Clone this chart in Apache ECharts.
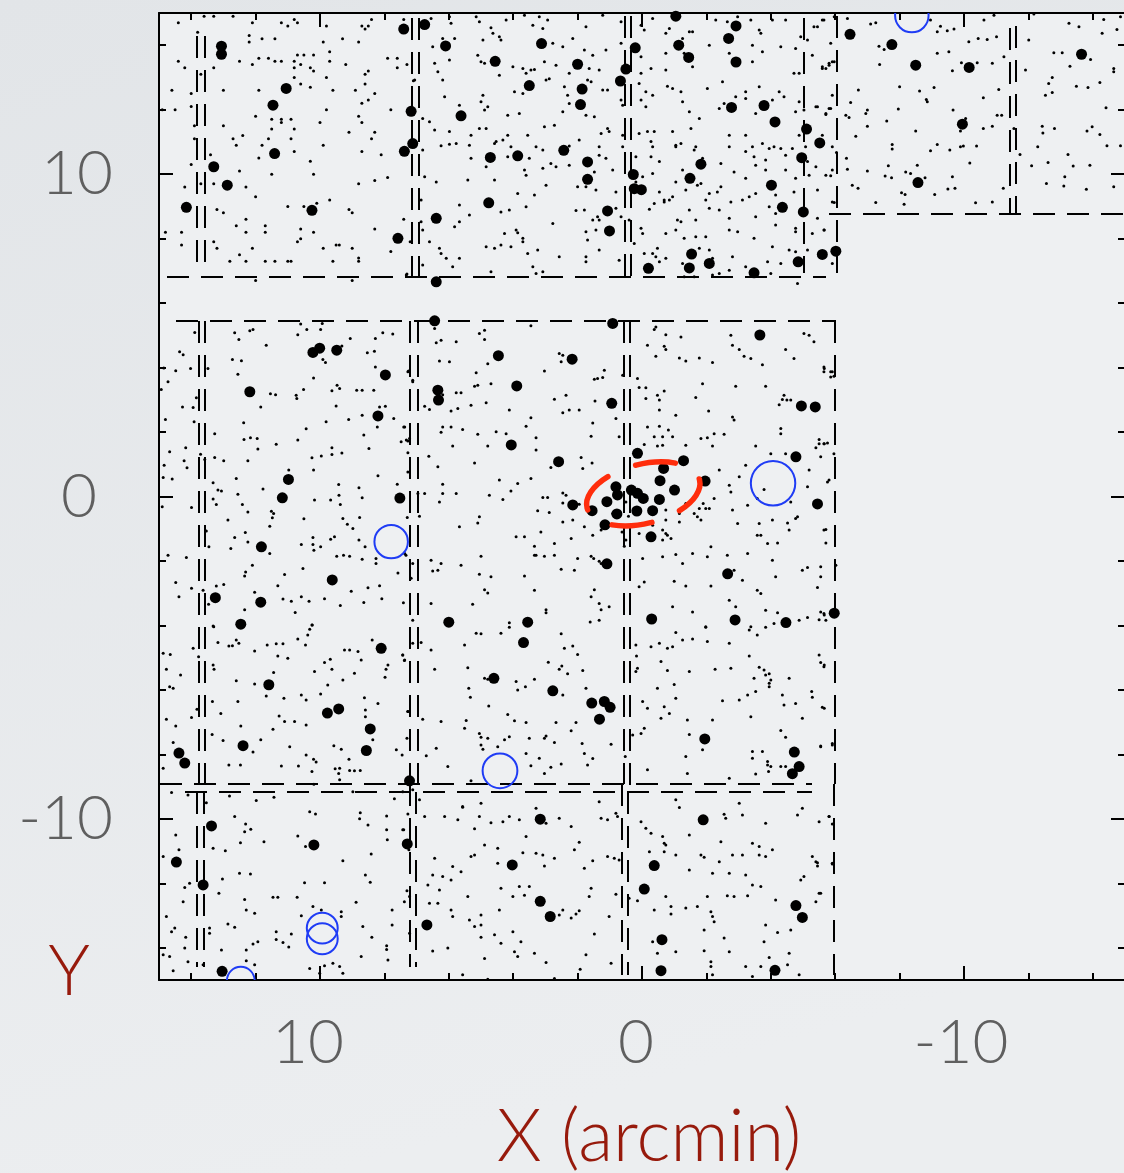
<!DOCTYPE html>
<html>
<head>
<meta charset="utf-8">
<title>X-ray source map</title>
<script src="https://cdn.jsdelivr.net/npm/echarts@6/dist/echarts.min.js"></script>
<style>
  html, body { margin: 0; padding: 0; overflow: hidden; }
  #chart { width: 1124px; height: 1173px; }
</style>
</head>
<body>
<div id="chart"></div>
<script>
// Offsets from the field centre, in arcmin. X grows to the east (left).

// Labelled axis ticks
const tickLabels = [-10, 0, 10];

// Bright detections (large dots)
const brightSources = [
  [7.40,14.50],[13.06,13.97],[13.06,13.72],[11.05,12.66],[11.46,12.14],[7.17,11.95],[7.12,10.95],[7.38,10.71],[11.41,10.64],[13.30,10.23],[12.88,9.66],[14.15,8.97],[10.25,8.88],[7.58,8.01],
  [6.75,14.64],[6.10,13.98],[3.12,14.05],[4.56,13.50],[2.00,13.41],[0.50,13.26],[0.67,12.89],[0.21,13.92],[-1.05,14.90],[-2.92,14.60],[-1.14,14.00],[-1.45,13.62],[-2.69,14.21],[-2.92,13.48],
  [3.50,12.75],[1.86,12.64],[1.91,12.16],[5.62,11.81],[-2.78,12.07],[-3.79,12.13],[-4.13,11.62],[-5.11,11.40],[-5.52,10.97],[-4.96,10.51],
  [4.71,10.52],[3.86,10.57],[2.43,10.74],[1.69,10.38],[1.69,9.84],[0.27,9.99],[0.24,9.55],[0.02,9.52],[-1.83,10.31],[-1.49,9.87],[-4.02,9.66],[-4.36,8.97],[-5.01,8.83],
  [4.76,9.11],[1.07,8.86],[1.01,8.24],[6.39,8.63],[-1.54,7.52],[-1.47,7.09],[-2.09,7.23],[-0.20,7.08],[-3.48,6.94],[-4.85,7.28],[-5.60,7.51],[-6.02,7.61],
  [6.39,6.66],[6.44,5.45],[0.91,5.37],
  [-6.46,14.34],[-7.76,14.02],[-8.50,13.38],[-10.16,13.31],[-13.65,13.72],[-9.95,11.55],[-8.57,9.74],
  [10.01,4.60],[10.22,4.47],[9.48,4.54],[7.97,3.77],[12.18,3.25],[8.20,2.50],[10.98,0.53],[11.17,-0.04],[7.52,-0.05],[11.82,-1.56],[9.62,-2.59],[13.25,-3.14],[11.84,-3.28],[12.46,-3.96],
  [-3.66,5.01],[4.46,4.37],[2.17,4.26],[3.89,3.43],[6.34,3.30],[6.32,2.99],[0.94,2.89],[-4.95,2.81],[-5.38,2.78],[4.06,1.60],[2.59,1.08],[0.14,1.34],[-1.29,1.11],[-4.78,1.23],[-1.96,0.48],
  [-0.67,0.87],[-0.56,0.49],[-1.01,0.20],[-0.54,-0.09],[0.14,0.10],[-0.04,-0.06],[0.33,0.20],[0.81,0.30],[0.76,0.05],[1.09,-0.16],[2.15,-0.26],[1.55,-0.44],[0.78,-0.54],[0.16,-0.45],[-0.33,-0.44],[1.15,-0.88],[-0.28,-1.25],
  [-5.45,-0.23],[1.09,-2.09],[-2.66,-2.40],[6.00,-3.90],[3.55,-3.90],[-0.30,-3.80],[-2.89,-3.83],[-4.47,-3.91],[-5.97,-3.62],
  [8.10,-4.71],[11.59,-5.84],[9.77,-6.72],[9.42,-6.59],[8.44,-7.21],[12.39,-7.73],[14.38,-7.96],[14.20,-8.27],[8.56,-7.88],[7.22,-8.82],[13.37,-10.22],[10.19,-10.81],[7.29,-10.78],[14.46,-11.34],[13.63,-12.05],[13.04,-14.73],
  [3.68,-4.53],[4.60,-5.64],[2.77,-6.03],[1.56,-6.41],[1.17,-6.36],[0.99,-6.54],[1.32,-6.91],[-1.95,-7.52],[-4.73,-7.93],[-4.88,-8.38],[-4.67,-8.60],[3.16,-10.01],[-1.90,-10.03],[4.03,-11.43],[-0.38,-11.45],[-0.07,-12.18],[3.16,-12.56],[2.85,-13.03],[-4.78,-12.69],[-4.98,-13.06],[6.68,-13.29],[-0.62,-13.75],[-0.59,-14.71],[-4.13,-14.70]
];

// Faint detections (small dots)
const faintNorth = [
  [14.4,14.7],[13.6,14.9],[13.3,14.9],[12.7,14.9],[12.1,14.7],[11.2,14.7],[10.8,14.8],[10.7,14.7],[11.0,14.6],[9.8,14.6],[8.7,14.6],[8.5,14.6],[8.6,14.5],[8.4,14.8],[7.4,14.8],[13.8,14.4],[12.2,14.3],[11.8,14.2],[11.4,14.2],[12.2,14.1],[12.5,13.5],[12.1,13.4],[11.9,13.6],[11.6,13.6],[11.4,13.5],[11.2,13.5],[10.8,13.5],[10.8,13.3],[10.6,13.4],[10.3,13.3],[10.2,13.2],[10.7,13.7],[10.5,13.7],[10.2,13.7],[9.7,13.8],[9.7,13.5],[9.2,13.4],[8.8,14.1],[9.3,14.2],[9.9,14.1],[14.4,13.5],[14.2,13.3],[13.3,13.3],[13.7,13.1],[8.5,13.2],[8.6,13.1],[7.9,13.6],[7.6,13.6],[7.6,13.3],[7.3,13.4],[7.1,12.9],[14.6,12.6],[14.0,12.5],[13.0,12.6],[11.9,12.6],[10.8,13.0],[10.6,12.8],[10.3,12.7],[9.8,13.0],[9.6,12.6],[8.9,12.6],[8.6,12.8],[8.3,12.5],[8.5,12.3],[8.7,12.2],[14.9,12.0],[14.5,12.0],[14.0,12.1],[9.8,12.0],[7.8,12.0],[13.9,11.5],[13.0,11.5],[12.0,11.8],[11.5,11.7],[11.2,11.7],[11.2,11.6],[10.9,11.7],[10.8,11.4],[10.9,11.1],[11.5,11.4],[11.6,11.1],[11.8,10.9],[12.7,11.1],[12.6,10.9],[12.4,11.2],[8.8,11.8],[8.7,11.6],[9.1,11.3],[8.3,11.3],[8.4,11.1],[10.0,11.6],[13.9,11.1],[9.9,10.9],[8.7,10.7],[8.1,10.6],[10.8,10.7],[14.0,10.3],[13.4,10.6],[12.5,10.1],[11.5,10.0],[11.9,10.5],[10.2,10.0],[10.3,10.4],[8.8,9.7],[8.3,9.8],[7.9,9.9],[14.2,9.6],[13.7,9.7],[13.3,9.7],[12.3,9.6],[12.0,9.3],[9.7,9.2],[10.1,9.1],[11.0,9.0],[10.5,9.0],[13.2,8.9],[13.0,8.8],[12.6,8.4],[12.3,8.6],[11.7,8.4],[11.7,8.2],[12.3,8.2],[10.6,8.3],[10.6,8.0],[10.7,7.9],[10.2,8.2],[9.9,7.7],[9.5,7.8],[9.4,7.8],[9.0,7.7],[9.1,8.9],[9.0,8.8],[8.3,8.3],[7.8,7.6],[7.4,8.6],[14.8,8.2],[14.3,8.2],[14.3,7.8],[13.3,7.9],[13.2,7.7],[12.8,7.3],[12.5,7.5],[12.3,7.3],[12.1,7.7],[11.7,7.3],[11.4,7.3],[11.0,7.3],[10.9,7.3],[9.6,7.3],[8.8,7.4],[8.8,7.3],[7.2,7.9],[7.3,6.9],[9.0,6.7],[12.0,6.7],
  [6.55,14.83],[5.98,14.88],[5.93,14.68],[5.15,14.88],[5.05,14.73],[4.69,14.54],[4.63,14.37],[4.22,14.78],[3.65,14.93],[3.39,14.62],[3.19,14.88],[3.08,14.52],[2.93,14.78],[1.74,14.57],[1.22,14.93],[0.65,14.73],[0.03,14.62],[-0.07,14.47],[-0.33,14.83],[-0.74,14.37],[-0.85,14.52],[-1.57,14.42],[-2.29,14.78],[-2.65,14.73],[-2.97,14.88],[-3.38,14.78],[-3.64,14.47],[-3.69,14.37],[-4.05,14.78],[-4.46,14.78],[-4.93,14.26],[-5.34,14.57],[-5.65,14.78],
  [6.50,13.95],[6.19,14.21],[5.82,14.21],[4.94,14.16],[4.43,14.26],[4.38,14.16],[2.77,14.06],[2.46,13.95],[2.15,14.21],[1.79,13.85],[1.53,13.69],[1.12,13.85],[0.65,14.06],[0.03,13.64],[-0.74,13.75],[-1.26,14.21],[-1.31,13.75],[-1.47,14.42],[-2.09,14.00],[-2.71,13.75],[-3.43,14.00],[-3.74,13.80],[-4.31,13.95],[-4.77,13.90],[-5.14,14.16],[-5.29,13.69],[-5.86,14.06],[-5.45,14.57],
  [5.98,13.54],[5.10,13.69],[5.00,13.49],[4.89,13.44],[4.43,13.07],[4.01,13.33],[3.70,13.28],[3.60,13.13],[3.45,13.23],[3.34,13.25],[3.03,13.49],[2.67,13.38],[2.26,13.13],[1.64,13.28],[1.33,13.23],[0.03,13.13],[-0.28,13.28],[-0.74,13.23],[-1.57,13.33],[-3.43,13.49],[-4.72,13.13],[-4.88,13.13],[-5.60,13.28],[-5.81,13.44],[-5.91,13.49],[6.44,13.44],[6.34,13.18],[7.06,12.92],[6.19,12.92],
  [6.13,12.40],[5.67,12.14],[4.94,12.45],[4.79,12.09],[3.96,12.56],[3.70,12.50],[2.98,12.92],[2.88,12.96],[2.41,12.71],[2.31,12.45],[1.69,12.92],[1.58,12.87],[1.22,12.61],[1.07,12.61],[0.71,12.97],[0.09,12.81],[-0.12,12.56],[-0.33,12.45],[-0.79,12.73],[-0.95,12.66],[-1.21,12.56],[-2.03,12.66],[-2.50,12.87],[-2.91,12.40],[-3.22,12.56],[-3.22,12.35],[-3.64,12.71],[-4.05,12.30],[-4.26,12.56],[-4.41,12.40],[-4.88,12.25],[-5.03,11.99],[-5.40,12.09],[-5.81,12.04],[-5.91,12.45],
  [6.81,11.73],[6.60,11.63],[5.00,12.25],[4.89,11.99],[4.17,11.83],[3.81,11.88],[2.46,11.94],[2.26,12.19],[1.74,11.83],[1.48,11.78],[0.65,12.30],[0.60,12.14],[0.03,12.30],[-0.12,12.09],[-1.26,12.25],[-1.47,11.94],[-1.78,11.73],[-2.40,12.04],[-2.55,12.19],[-3.53,11.88],[-3.79,12.09],[-4.77,11.94],[-5.45,12.09],[-5.71,11.88],
  [6.44,11.37],[5.98,11.32],[5.31,11.21],[5.05,11.42],[4.84,11.42],[4.53,11.01],[4.32,11.06],[4.17,11.21],[3.55,11.21],[3.03,11.47],[2.72,11.52],[1.95,11.06],[1.27,11.26],[1.07,11.42],[1.02,11.32],[0.60,11.21],[0.09,11.26],[-0.17,11.32],[-0.38,11.32],[-0.28,11.01],[-0.33,10.85],[-0.95,11.32],[-1.05,10.90],[-1.21,10.95],[-1.52,11.42],[-1.67,10.85],[-2.71,11.21],[-3.22,11.21],[-3.43,10.85],[-3.74,10.95],[-3.95,10.80],[-4.10,10.85],[-4.31,10.80],[-4.67,10.80],[-4.88,11.21],[-5.08,10.85],[-5.60,11.21],[-5.91,10.85],
  [6.81,10.75],[6.24,10.88],[5.98,10.93],[5.77,10.95],[5.36,10.90],[4.58,10.95],[4.07,10.85],[3.29,10.85],[3.08,10.75],[2.26,10.87],[1.33,10.85],[1.12,10.49],[0.60,10.85],[0.19,10.54],[-0.28,10.54],[-0.54,10.39],[-1.05,10.85],[-1.62,10.75],[-1.88,10.49],[-2.45,10.33],[-2.71,10.85],[-3.22,10.70],[-3.48,10.54],[-3.84,10.44],[-4.46,10.59],[-5.14,10.39],
  [5.31,10.49],[4.84,10.23],[4.17,10.54],[3.50,10.49],[3.65,10.13],[3.60,9.97],[3.08,10.18],[2.83,10.33],[2.26,10.28],[1.33,10.59],[1.48,10.07],[0.91,10.13],[-0.02,9.92],[-0.33,10.02],[-1.05,9.76],[-1.26,10.13],[-1.83,9.71],[-2.09,9.40],[-2.45,9.61],[-2.86,10.07],[-3.22,9.87],[-3.53,10.28],[-3.84,10.13],[-4.46,10.13],[-4.77,9.87],[-5.19,9.97],[-5.40,10.23],[-5.71,9.97],[-5.91,10.13],
  [6.75,9.92],[6.39,9.76],[5.41,9.82],[4.58,9.82],[2.98,9.66],[2.67,10.23],[2.00,9.61],[1.74,9.61],[1.43,9.51],[0.81,9.45],[0.19,9.76],[-0.54,9.45],[-0.69,9.20],[-0.95,9.30],[-1.36,9.51],[-1.72,9.66],[-1.98,9.20],[-2.34,9.45],[-3.33,9.30],[-3.53,9.40],[-4.15,9.35],[-4.72,9.45],[-5.45,9.51],
  [6.86,9.20],[5.67,9.04],[5.36,8.73],[4.38,8.83],[4.12,8.89],[3.86,9.40],[3.60,8.99],[3.34,9.35],[2.05,8.87],[1.79,8.89],[1.53,8.58],[1.38,8.68],[1.33,8.58],[0.81,8.94],[0.40,8.58],[0.03,8.32],[-0.23,8.91],[-0.38,9.09],[-0.69,9.14],[-0.85,9.20],[-1.10,8.58],[-1.21,8.52],[-1.47,8.89],[-1.67,8.58],[-2.09,8.94],[-2.40,8.89],[-2.71,8.63],[-2.76,9.14],[-3.12,9.20],[-3.53,8.68],[-3.95,8.99],[-4.15,8.78],[-4.77,8.32],[-5.45,8.63],[-5.65,8.27],[-5.91,9.14],
  [6.86,8.52],[6.81,8.27],[5.82,8.37],[5.67,8.52],[4.27,8.16],[3.91,8.27],[3.86,8.18],[3.70,8.01],[3.70,7.90],[2.77,8.47],[1.74,8.21],[1.69,7.96],[1.43,8.27],[0.65,8.68],[-0.02,8.16],[-0.74,8.16],[-1.05,8.27],[-1.31,8.01],[-1.67,8.06],[-1.98,8.06],[-2.71,8.27],[-2.97,8.21],[-3.48,8.01],[-4.15,8.42],[-4.77,8.21],[-5.29,8.16],
  [7.32,6.87],[6.81,7.18],[6.60,7.90],[6.29,7.70],[6.24,7.54],[6.08,7.39],[5.88,7.13],[5.67,7.39],[4.84,7.75],[4.58,7.70],[4.38,7.80],[4.07,7.75],[3.55,7.54],[3.24,7.65],[2.57,7.44],[1.74,7.44],[1.74,7.28],[1.33,7.65],[0.71,7.33],[0.24,7.85],[-0.07,7.54],[-0.33,7.54],[-0.48,7.70],[-0.43,7.44],[-0.54,7.28],[-0.74,7.39],[-1.26,7.23],[-1.78,7.70],[-2.09,7.65],[-2.19,7.39],[-2.40,6.92],[-2.71,7.02],[-2.81,7.44],[-3.22,7.13],[-3.90,7.28],[-4.05,7.75],[-4.31,7.23],[-4.57,7.65],[-4.77,7.59],[-5.14,7.65],[-4.83,6.61],[4.69,6.97],[3.39,7.13],[3.29,6.92],[3.08,6.97],[-1.31,6.82],[-1.62,6.82],[-2.19,6.87],[-4.00,6.92]
];

// Faint detections in the north-west chips
const faintNorthWest = [
  [-5.60,14.78],[-5.97,14.88],[-6.38,14.83],[-7.10,14.66],[-7.26,14.70],[-8.96,14.78],[-9.27,14.59],[-9.48,14.45],[-9.69,14.50],[-9.17,14.42],[-10.62,14.78],[-10.93,14.93],[-12.17,14.97],[-13.26,14.68],[-13.57,14.57],[-14.29,14.37],[-14.34,14.80],[-14.75,14.49],[-14.86,14.88],
  [-7.36,13.97],[-7.52,13.87],[-9.17,13.75],[-9.53,13.80],[-10.15,14.11],[-10.44,14.21],[-10.72,14.18],[-11.01,14.26],[-12.01,14.16],[-12.79,13.77],[-13.05,13.77],[-13.93,13.56],[-13.29,13.35],[-14.65,13.28],[-14.65,13.18],
  [-5.60,13.33],[-5.71,13.28],[-5.81,13.38],[-5.97,13.49],[-7.38,13.40],[-9.64,13.21],[-9.92,13.46],[-10.41,13.46],[-10.88,13.44],[-11.24,13.64],[-11.91,13.23],[-12.74,13.00],[-12.63,12.81],[-12.53,12.45],[-12.74,12.53],[-13.49,12.73],[-13.85,12.69],[-14.22,12.84],
  [-6.72,12.61],[-8.00,12.71],[-8.62,12.58],[-9.07,12.69],[-6.48,12.22],[-5.71,11.85],[-5.86,12.04],[-6.33,11.83],[-6.43,11.76],[-7.00,11.99],[-6.95,11.88],[-7.96,12.02],[-8.86,12.25],[-8.83,12.32],[-9.66,11.99],[-10.60,12.37],[-11.08,12.63],[-11.03,11.83],[-11.17,11.83],
  [-7.00,11.49],[-6.64,11.18],[-7.60,11.65],[-8.50,11.34],[-9.89,11.34],[-10.05,11.73],[-10.60,11.42],[-10.88,11.49],[-11.55,11.42],[-12.43,11.49],[-12.45,11.28],[-12.81,11.42],[-13.82,11.34],[-13.98,11.47],[-14.22,11.23],[-14.41,12.06],
  [-7.77,10.92],[-7.77,10.78],[-8.96,10.73],[-9.17,10.92],[-9.56,10.75],[-9.89,10.85],[-9.98,10.87],[-10.39,10.87],[-6.04,10.67],[-6.35,10.49],[-10.18,10.35],[-11.74,10.61],[-12.10,10.26],[-12.29,10.85],[-12.61,10.36],[-13.23,10.61],[-13.39,10.25],[-13.91,10.28],[-14.44,10.88],[-14.86,10.88],
  [-5.86,9.95],[-6.38,10.15],[-6.53,9.66],[-6.71,9.56],[-7.00,10.10],[-7.55,9.94],[-7.75,9.89],[-7.65,10.26],[-8.19,10.07],[-8.34,10.02],[-8.55,10.28],[-8.79,9.89],[-8.06,9.42],[-8.17,9.37],[-9.09,9.37],[-9.50,9.54],[-9.72,9.56],[-9.64,9.92],[-11.22,9.56],[-12.56,9.71],[-13.13,9.92],[-13.10,9.63],[-13.80,9.53],[-14.65,9.61],
  [-5.97,9.12],[-7.26,9.12],[-8.14,9.07],[-10.36,9.11],[-10.88,9.14],[-5.66,8.27],[-5.91,7.23]
];

// Faint detections in the central chips
const faintCentral = [
  [13.89,5.09],[12.65,5.08],[12.52,4.87],[12.18,5.14],[12.08,5.18],[10.69,5.02],[10.60,5.35],[10.41,5.18],[9.98,5.18],[9.93,5.37],[9.06,4.90],[8.28,4.90],[8.05,5.08],[7.74,5.04],
  [14.36,4.49],[14.25,4.40],[12.72,4.25],[12.44,4.21],[11.67,4.69],[9.91,4.25],[9.83,4.16],[9.32,4.67],[8.53,4.46],[8.31,4.51],[7.25,3.89],[7.12,3.61],
  [14.85,3.99],[14.72,3.56],[14.48,3.90],[14.02,3.97],[13.48,3.97],[12.55,3.79],[11.84,2.78],[11.54,3.19],[11.38,3.16],[10.74,3.14],[10.72,3.04],[10.51,3.32],[10.20,3.68],[9.63,3.28],[9.47,3.45],[9.39,3.35],[8.86,3.30],[8.69,3.30],[8.33,3.30],[8.28,4.02],[8.15,2.78],[7.97,2.80],[7.71,2.42],[7.40,2.16],[7.27,1.72],[7.48,1.70],
  [14.93,3.32],[14.80,2.39],[14.27,2.78],[13.94,2.76],[13.91,2.32],[13.84,3.06],[13.27,1.95],[12.37,2.29],[12.36,1.77],[12.16,1.82],[11.95,1.80],[11.93,1.47],[11.36,1.62],[10.69,1.75],[10.43,2.10],[9.81,2.32],[9.50,2.81],[9.11,2.39],[8.69,2.52],[8.64,1.91],[8.48,1.49],[8.22,2.16],
  [14.67,1.39],[14.84,0.97],[14.59,0.54],[14.87,0.59],[14.22,1.11],[14.17,1.51],[14.13,0.89],[13.71,1.31],[13.58,1.15],[13.27,1.21],[12.99,1.11],[12.24,1.11],[10.97,0.82],[10.25,1.20],[9.96,1.26],[9.63,1.51],[9.63,1.30],[9.32,1.35],[10.20,0.82],[8.20,0.64],[7.27,1.36],
  [13.32,0.43],[13.17,0.20],[13.06,0.17],[13.32,-0.08],[13.22,-0.25],[12.60,0.56],[12.55,0.07],[12.41,-0.25],[11.77,0.23],[12.24,-0.48],[11.51,-0.46],[11.44,-0.53],[11.48,-0.66],[11.56,-0.92],[10.50,-0.69],[10.17,-0.11],[9.67,-0.11],[9.41,0.04],[9.42,0.37],[9.37,-0.25],[8.79,0.27],[8.69,-0.04],[7.60,0.38],[7.29,-0.65],[9.29,-0.68],[9.15,-0.86],[8.98,-0.99],[8.77,-0.65],
  [14.90,-0.32],[13.99,-0.34],[13.53,-1.07],[13.45,-1.56],[12.86,-0.73],[12.77,-1.61],[12.65,-1.27],[12.32,-1.12],[12.24,-1.41],[11.56,-1.77],[10.58,-1.49],[10.22,-1.27],[10.22,-1.49],[10.19,-1.67],[9.98,-1.56],[9.67,-1.33],[9.55,-1.25],[9.48,-1.85],[9.27,-1.82],[9.08,-1.85],[8.79,-1.35],[8.60,-1.56],[8.69,-1.95],[8.26,-1.92],[8.26,-2.08],[7.33,-1.82],
  [14.72,-1.82],[14.15,-1.89],[14.48,-2.67],[14.38,-3.11],[13.99,-2.85],[13.63,-2.91],[13.46,-3.34],[13.22,-2.78],[12.99,-2.73],[12.34,-2.47],[12.31,-2.34],[12.10,-2.13],[12.03,-2.97],[12.34,-3.51],[11.10,-2.42],[11.31,-2.77],[11.15,-3.18],[10.89,-3.25],[10.58,-3.11],[10.53,-2.23],[10.34,-3.25],[9.86,-3.17],[9.37,-3.38],[9.03,-2.94],[8.64,-3.29],[8.51,-2.83],[8.15,-2.77],[8.08,-3.17],[7.58,-2.37],[7.41,-3.30],[7.17,-2.54],
  [13.30,-4.04],[10.77,-3.60],[10.32,-4.12],[10.25,-3.99],
  [6.44,5.21],[6.39,4.77],[6.24,4.85],[5.77,4.80],[5.05,5.06],[4.89,5.16],[4.89,4.87],[3.45,5.30],[2.57,4.44],[2.46,4.38],[2.51,4.18],[3.03,3.89],[1.48,3.64],[1.22,3.69],[1.17,3.92],[0.60,3.76],
  [-0.38,5.18],[-0.43,5.26],[-0.74,5.02],[-0.17,4.69],[-0.69,4.66],[-0.74,4.56],[-0.43,4.35],[-1.21,4.95],[-1.16,4.30],[-1.36,4.20],[-1.78,4.30],[-2.19,4.16],[-2.76,5.00],[-2.81,4.69],[-3.02,4.56],[-3.17,4.35],[-3.38,4.28],[-3.74,4.09],[-4.46,4.56],[-4.72,4.28],[-5.03,5.06],[-5.19,5.00],[-5.34,4.80],[-5.65,4.02],[-5.65,3.87],[-5.86,3.87],[-5.96,3.73],
  [7.27,3.87],[7.12,3.56],[6.29,4.20],[5.98,4.18],[5.15,3.84],[5.20,3.42],[5.10,3.45],[4.79,4.12],[4.69,3.50],[5.77,3.22],[5.62,3.22],[6.19,3.16],[6.75,2.80],[6.60,2.70],[5.93,2.65],[5.72,2.73],[5.31,2.83],[4.84,2.91],[4.12,2.68],[3.45,2.44],[2.72,3.02],[2.36,3.14],[2.26,2.68],[2.46,2.60],[1.95,2.68],[1.46,2.96],[1.38,3.66],[0.81,2.42],
  [0.14,3.66],[0.09,3.38],[-0.12,3.37],[-0.48,3.14],[-0.69,3.27],[-0.12,3.04],[-0.54,2.99],[-0.54,2.68],[-1.05,2.52],[-1.67,3.07],[-2.07,2.65],[-1.88,3.50],[-2.91,3.42],[-3.84,3.42],[-4.26,2.85],[-4.41,3.14],[-4.62,2.99],[-4.36,3.01],[-4.50,2.99],[-2.86,2.37],
  [7.37,2.16],[7.22,1.80],[7.32,1.75],[6.19,2.16],[5.93,2.16],[5.57,2.08],[6.24,1.99],[5.10,1.93],[4.53,2.01],[4.22,1.95],[3.60,2.18],[3.29,1.82],[3.29,1.44],[4.79,1.57],[5.88,1.57],[6.62,1.25],[6.34,0.92],[5.20,1.04],[1.89,1.21],[1.55,1.04],[2.83,0.90],[1.58,1.87],[1.84,0.87],[0.71,1.85],[1.53,2.28],
  [-0.17,2.16],[-0.54,2.18],[-0.82,2.06],[-0.07,1.61],[-0.38,1.85],[-0.64,1.85],[-0.64,1.59],[-0.48,1.57],[-0.95,1.85],[-1.36,1.59],[-1.83,1.80],[-2.03,1.82],[-2.24,1.95],[-2.55,1.93],[-2.81,2.47],[-2.19,1.57],[-3.53,1.57],[-4.31,2.11],[-4.31,1.95],[-5.50,1.77],[-5.65,1.64],[-5.76,1.66],[-5.40,1.51],[-4.46,1.33],[-4.00,1.33],[-5.19,0.82],[-5.55,1.23],[-5.96,1.33],
  [7.27,0.76],[6.96,0.09],[6.75,0.09],[6.19,0.38],[6.19,0.09],[6.29,-0.17],[5.77,0.09],[4.43,0.51],[3.86,0.40],[3.45,0.56],[4.74,0.04],[4.32,-0.09],[4.07,0.17],[3.08,-0.03],[2.93,-0.03],[2.46,0.11],[2.36,0.04],[2.46,-0.20],[2.88,-0.50],[1.95,-0.24],[3.24,-0.44],
  [-2.40,0.82],[-2.71,0.35],[-2.76,0.14],[-3.02,0.61],[-3.22,0.97],[-3.28,-0.27],[-3.58,-0.06],[-3.79,0.22],[-4.62,-0.17],[-4.77,-0.68],[-5.76,0.45],[-5.65,-1.04],[-5.14,0.30],[-2.97,-0.84],[-2.81,-0.42],[-2.24,-0.06],[-1.90,-0.22],[-1.98,-0.37],[-1.62,-0.53],[-1.78,-0.37],[-1.72,-0.63],[-1.83,-0.73],[-2.09,-0.37],[-1.36,-0.22],[-1.16,-0.53],[-0.74,-0.42],[-0.74,-0.73],[-0.64,-1.04],[-0.90,-1.30],[-0.74,-1.15],
  [6.91,-0.61],[5.67,-0.94],[5.10,-0.82],[5.05,-0.63],[3.91,-1.25],[3.65,-1.25],[3.34,-1.54],[3.29,-1.82],[3.14,-1.10],[2.72,-1.46],[2.20,-1.30],[1.79,-0.94],[1.53,-1.20],[1.27,-1.04],[2.46,-0.79],[2.15,-0.73],[0.91,-0.53],[0.50,-0.17],[0.42,-0.61],[0.50,-1.35],[0.55,-1.54],[0.62,-1.10],
  [0.09,-1.15],[-0.33,-0.89],[-0.64,-1.35],[-0.79,-1.20],[-1.16,-0.79],[-2.14,-1.56],[-3.58,-1.20],[-3.69,-1.20],[-3.90,-1.46],[-4.05,-0.73],[-4.52,-0.82],[-4.57,-1.04],[-4.83,-0.63],[-4.98,-2.29],[-3.64,-0.84],[-4.21,-1.44],
  [7.37,-1.77],[7.12,-2.08],[6.55,-1.98],[6.24,-2.08],[6.50,-2.31],[6.34,-2.29],[5.62,-2.13],[5.00,-1.85],[5.05,-2.41],[4.69,-2.49],[4.89,-2.89],[4.79,-2.99],[3.65,-2.47],[3.34,-1.82],[3.03,-1.85],[2.72,-1.82],[2.51,-2.26],[2.10,-2.29],[2.00,-1.92],[1.58,-1.85],[1.50,-1.92],[1.33,-2.01],[1.27,-2.08],[1.48,-2.89],[1.58,-3.11],[1.33,-3.32],[1.27,-3.51],[1.02,-3.42],[1.61,-3.89],[1.33,-3.84],[2.98,-3.51],[2.98,-3.61],[3.34,-2.91],[6.55,-3.32],[5.26,-3.34],[7.12,-3.84],[4.12,-3.92],
  [-0.02,-1.92],[-0.64,-1.87],[-1.05,-1.80],[-1.26,-2.08],[-1.57,-1.77],[-2.03,-1.87],[-2.65,-1.82],[-3.28,-1.77],[-4.05,-1.98],[-2.86,-2.29],[-3.12,-2.60],[-3.58,-2.91],[-3.69,-3.01],[-4.15,-2.49],[-5.14,-2.20],[-5.55,-2.18],[-6.02,-2.13],[-5.45,-2.82],[-0.07,-2.65],[-1.00,-2.63],[-1.36,-2.78],[-2.14,-2.78],[-2.71,-3.22],[-2.91,-3.42],[-3.84,-3.53],[-4.21,-3.61],[-5.14,-3.75],[-5.50,-3.82],[-5.65,-3.63],[0.09,-2.80],[-0.95,-3.42],[-1.57,-3.58],[-1.98,-4.04],[-4.88,-3.84],[-5.71,-3.84],[-3.38,-4.04],[-4.10,-3.94],
  [-5.66,3.97],[-5.91,3.87],[-5.86,3.71],[-5.50,1.64],[-5.66,1.64],[-5.81,0.51],[-5.71,-1.02],[-5.71,-1.44],[-5.55,-2.49],[-5.55,-3.58],[-5.66,-3.68]
];

// Faint detections in the southern chips
const faintSouth = [
  [13.32,-4.02],[13.17,-4.53],[12.83,-4.64],[12.72,-4.63],[12.60,-4.45],[12.52,-4.55],[12.03,-4.79],[11.64,-4.61],[11.36,-4.57],[11.15,-4.57],[10.69,-4.42],[10.45,-4.61],[10.38,-4.30],[10.24,-3.99],[11.31,-4.95],[11.00,-5.02],[9.24,-4.76],[9.08,-4.76],[8.82,-4.81],[8.72,-5.07],[8.38,-4.45],[7.89,-5.23],[7.95,-5.36],[7.98,-5.61],[7.43,-4.92],[7.38,-5.09],[7.12,-4.55],
  [14.87,-4.86],[14.65,-4.90],[13.94,-4.71],[13.77,-4.97],[13.32,-5.23],[13.29,-5.36],[14.33,-5.54],[14.77,-5.36],[14.67,-5.90],[14.56,-5.95],[12.60,-5.72],[12.03,-5.82],[11.67,-6.19],[11.44,-5.46],[11.12,-6.26],[10.58,-6.16],[10.43,-6.31],[10.17,-5.43],[9.86,-5.15],[9.68,-5.05],[9.63,-5.36],[9.29,-5.69],[8.93,-5.48],[9.76,-5.85],[9.98,-6.13],[8.62,-6.24],[8.20,-6.42],[8.59,-6.62],[8.59,-6.83],[7.27,-6.67],
  [14.77,-6.91],[14.48,-7.12],[13.99,-6.86],[13.82,-6.60],[13.34,-6.36],[13.08,-6.73],[12.55,-6.36],[12.46,-7.12],[11.84,-7.55],[11.46,-7.22],[11.27,-6.81],[11.10,-6.98],[10.79,-6.98],[10.43,-7.09],[10.94,-7.76],[10.43,-8.02],[10.20,-8.15],[10.12,-8.24],[9.57,-7.73],[9.34,-7.84],[9.10,-8.15],[8.93,-8.51],[8.75,-8.50],[9.42,-8.59],[9.39,-8.79],[9.53,-8.45],[8.36,-7.55],[7.63,-7.86],[7.45,-8.02],[7.30,-7.50],
  [14.87,-8.43],[14.56,-7.63],[13.35,-7.38],[13.01,-7.57],[12.08,-7.93],[12.83,-8.33],[12.47,-8.33],[11.20,-8.36],[10.67,-8.36],[10.25,-8.53],[10.19,-8.93],[9.39,-8.43],[9.08,-8.50],
  [14.61,-9.18],[14.10,-9.26],[13.53,-9.50],[12.81,-9.29],[11.98,-9.43],[11.43,-9.33],[10.32,-9.78],[10.14,-9.85],[8.98,-9.16],[8.75,-9.81],[8.77,-10.00],[8.51,-10.19],[7.93,-9.91],[7.93,-10.34],[7.91,-10.65],[7.43,-9.16],[7.69,-9.38],[7.27,-9.85],[7.40,-10.34],
  [12.65,-9.93],[12.31,-10.16],[12.34,-10.40],[12.15,-10.32],[12.47,-10.74],[11.74,-10.71],[10.69,-10.53],[10.45,-10.86],[9.29,-11.30],[8.41,-11.09],[7.24,-10.96],[14.48,-10.50],[14.38,-10.96],[14.87,-11.17],[13.32,-10.91],[12.94,-10.99],[12.50,-11.69],[13.03,-11.87],[13.14,-12.31],
  [14.20,-12.13],[14.05,-12.00],[14.25,-12.57],[12.16,-11.71],[12.34,-12.50],[11.46,-12.43],[11.31,-12.43],[10.71,-12.43],[10.48,-11.98],[9.86,-11.98],[8.88,-12.59],[8.59,-11.74],[8.44,-11.97],[7.30,-12.23],[7.38,-12.57],[7.76,-12.83],[7.76,-13.29],[8.67,-13.34],[8.39,-13.67],[7.93,-13.94],[7.93,-14.05],[7.89,-14.38],[8.72,-14.27],
  [14.77,-13.03],[14.61,-13.50],[14.51,-13.39],[14.87,-14.22],[14.67,-14.27],[14.17,-13.67],[14.20,-14.01],[14.10,-14.43],[14.56,-14.71],[13.63,-14.53],[13.43,-13.39],[13.43,-13.55],[12.86,-13.26],[12.65,-13.36],[12.29,-12.83],[12.03,-12.93],[11.93,-13.81],[12.08,-13.88],[12.29,-14.07],[12.29,-14.40],[12.03,-14.53],[13.06,-14.07],[11.36,-13.50],[11.36,-13.74],[11.15,-13.84],[10.89,-13.57],[10.58,-13.01],[10.97,-13.98],[10.22,-12.72],[9.96,-12.83],[9.34,-12.88],[9.34,-13.03],[9.86,-14.56],[9.60,-14.48],[9.29,-14.79],[9.39,-14.58],[10.32,-14.64],[10.01,-14.79],
  [7.43,-4.92],[7.37,-5.07],[6.86,-4.53],[6.55,-4.76],[6.44,-5.36],[5.51,-4.61],[5.41,-5.31],[5.15,-4.24],[5.00,-4.26],[4.38,-4.24],[4.12,-4.06],[2.51,-4.26],[2.41,-4.71],[2.15,-4.64],[2.00,-4.90],[2.91,-5.14],[2.57,-5.36],[2.49,-5.26],[2.31,-5.50],[1.84,-5.40],
  [5.38,-5.95],[5.33,-6.23],[4.89,-5.64],[4.79,-5.67],[3.91,-5.74],[3.86,-6.00],[3.62,-5.90],[3.34,-5.67],[2.46,-6.16],[1.74,-5.95],[4.76,-6.50],[4.17,-6.76],[3.96,-6.96],[3.60,-7.01],[2.67,-7.01],[2.20,-7.27],[2.05,-7.01],
  [7.27,-6.67],[6.81,-6.91],[6.24,-6.98],[5.46,-6.95],[5.51,-7.19],[5.05,-7.35],[5.00,-7.47],[4.79,-7.50],[5.00,-7.71],[4.94,-7.84],[4.48,-7.76],[4.27,-7.55],[4.12,-7.45],[3.50,-7.50],[3.03,-7.50],[2.98,-7.43],[2.72,-7.63],[1.86,-7.66],[1.79,-7.97],[1.69,-8.33],[1.53,-8.13],[0.96,-7.69],[0.52,-8.07],[6.70,-8.04],[6.39,-7.81],[6.03,-8.38],[5.31,-8.82],[5.57,-9.62],[3.60,-7.97],[3.45,-8.35],[3.19,-8.12],[3.03,-8.59],[2.83,-8.40],[2.51,-8.30],
  [0.19,-4.61],[-0.28,-4.66],[-0.54,-4.55],[-0.79,-4.71],[-0.95,-4.66],[-1.05,-4.22],[-1.26,-4.45],[-1.57,-4.42],[-2.03,-4.50],[-1.98,-4.06],[-2.71,-4.55],[-3.33,-4.14],[-3.58,-4.30],[-3.84,-4.06],[0.17,-4.95],[0.14,-5.33],[0.19,-5.43],[-0.59,-5.12],[-0.79,-5.40],[-1.47,-5.43],[-2.27,-5.36],[-2.76,-5.33],[-3.33,-4.95],[-3.64,-5.30],[-3.79,-5.38],[-3.84,-5.54],[-3.95,-5.50],[-4.00,-5.69],[-3.48,-5.64],[-3.95,-5.79],[-4.57,-5.64],[-5.50,-4.92],[-5.65,-5.28],
  [-0.02,-6.36],[-0.17,-6.57],[-0.69,-6.52],[-1.05,-6.26],[-0.48,-5.95],[-1.00,-5.83],[-0.85,-6.73],[-0.59,-6.88],[-1.41,-6.93],[-2.19,-6.93],[-2.50,-6.34],[-3.02,-6.31],[-3.28,-6.16],[-3.53,-6.05],[-3.95,-5.90],[-4.36,-6.16],[-4.41,-6.47],[-4.77,-6.42],[-4.98,-6.88],[-5.27,-6.05],[-5.29,-6.23],[-5.60,-6.54],[-3.38,-6.83],[-4.31,-7.26],[-4.46,-7.47],[0.29,-7.40],[0.03,-7.35],[-0.07,-7.19],[-1.47,-7.38],[-1.88,-7.86],[-1.36,-8.07],[-3.43,-7.91],[-3.74,-7.91],[-3.43,-8.12],[-3.90,-8.33],[-4.00,-8.38],[-4.31,-8.38],[-4.46,-8.38],[-3.93,-8.53],[-5.55,-7.76],[-5.91,-7.66],[-0.17,-8.48],[-1.41,-8.59],[-2.71,-8.74],[-3.53,-8.61],[-3.90,-8.22],
  [7.43,-10.34],[7.12,-9.10],[6.91,-9.41],[6.75,-9.93],[6.13,-9.93],[5.72,-10.03],[5.57,-9.64],[5.20,-10.31],[5.05,-9.93],[5.00,-9.52],[4.69,-10.12],[4.32,-10.09],[4.12,-9.93],[3.81,-10.03],[3.60,-10.55],[3.29,-9.67],[2.98,-10.14],[2.57,-9.98],[2.20,-10.24],[1.95,-10.73],[1.33,-9.47],[1.27,-9.98],[1.07,-10.03],[0.81,-9.83],[0.76,-9.93],[-0.12,-10.29],[-0.28,-10.45],[-0.64,-10.55],[-0.69,-10.76],[-0.74,-10.81],[0.03,-10.09],[-1.05,-9.41],[-1.16,-9.65],[-1.47,-10.50],[-2.55,-9.86],[-2.60,-9.98],[-3.02,-9.52],[-3.12,-9.88],[-3.84,-10.14],[-4.83,-9.88],[-4.98,-9.67],[-5.50,-10.09],[-5.81,-9.93],[-3.43,-10.76],[-3.64,-10.86],[-2.45,-10.71],
  [6.44,-11.22],[5.88,-11.48],[5.62,-11.64],[5.31,-11.17],[5.20,-11.12],[4.89,-10.81],[4.48,-10.91],[4.48,-11.38],[3.70,-11.05],[3.29,-11.07],[3.08,-11.12],[2.72,-11.22],[3.03,-11.46],[2.10,-10.96],[1.79,-11.53],[1.53,-11.30],[1.07,-11.17],[0.86,-11.22],[0.71,-11.28],[-0.23,-11.02],[-0.69,-11.02],[-1.05,-11.12],[-1.83,-11.12],[-1.93,-11.19],[-2.40,-11.33],[-2.81,-11.12],[-3.12,-11.12],[-3.64,-11.12],[-3.84,-11.17],[-4.05,-10.96],[-5.29,-11.17],[-5.45,-11.36],[-5.45,-11.46],[-5.91,-11.38],[-1.47,-11.59],[-2.19,-11.69],[-2.71,-11.69],[-3.22,-11.74],[-3.43,-12.05],[-3.69,-12.10],[-5.03,-11.79],[-4.93,-11.90],[-5.50,-12.31],
  [7.22,-12.41],[6.65,-12.05],[6.50,-11.74],[6.19,-11.79],[5.93,-11.90],[6.29,-12.21],[6.60,-12.62],[6.34,-12.62],[5.93,-12.83],[5.88,-13.03],[5.41,-12.41],[5.36,-13.14],[5.00,-12.98],[5.00,-13.29],[5.00,-13.67],[4.43,-12.83],[4.38,-12.15],[4.01,-12.41],[3.81,-12.10],[3.65,-12.37],[3.50,-12.10],[2.57,-12.98],[2.46,-12.83],[2.20,-13.08],[2.05,-12.95],[1.95,-12.85],[1.64,-12.41],[1.58,-12.15],[1.48,-13.57],[1.02,-13.03],[0.81,-12.34],[0.40,-12.46],[0.14,-12.54],[-0.38,-12.83],[-0.74,-12.41],[-0.90,-12.72],[-0.90,-12.95],[-1.36,-12.77],[-1.72,-12.72],[-2.03,-12.41],[-2.14,-12.88],[-2.19,-13.03],[-2.24,-13.19],[-2.65,-12.39],[-2.86,-12.41],[-3.28,-12.39],[-4.15,-12.52],[-3.84,-13.29],[-4.21,-13.53],[-5.40,-12.57],[-5.40,-11.33],[-4.62,-13.45],
  [7.22,-13.55],[6.50,-14.10],[6.03,-14.01],[5.20,-13.34],[4.89,-14.33],[4.58,-13.60],[4.38,-13.86],[4.01,-13.50],[3.96,-14.12],[3.76,-13.81],[3.86,-14.27],[3.34,-14.17],[2.98,-14.46],[2.72,-14.95],[1.92,-14.67],[1.74,-14.22],[5.57,-14.84],[4.79,-14.98],[0.96,-14.48],[-0.33,-13.81],[-0.48,-14.17],[-1.05,-14.12],[-1.93,-13.45],[-1.93,-14.09],[-2.14,-14.43],[-2.14,-14.58],[-2.55,-13.70],[-2.71,-14.12],[-3.22,-14.58],[-3.69,-14.58],[-3.79,-13.81],[-3.95,-14.30],[-4.57,-14.17],[-4.52,-14.53],[-4.88,-14.84],[-3.43,-14.89],[-2.19,-14.84],
  [-5.66,-5.23],[-5.55,-5.15],[-5.66,-6.57],[-5.55,-7.74],[-5.91,-7.71],[-5.81,-9.93],[-5.91,-10.16],[-5.91,-11.40],[-5.55,-12.31]
];

// Sources from the comparison catalogue: [x, y, radius]
const catalogueCircles = [
  [-8.38, 14.92, 0.52],
  [7.79, -1.40, 0.52],
  [-4.07, 0.41, 0.69],
  [4.41, -8.51, 0.54],
  [9.93, -13.39, 0.48],
  [9.93, -13.72, 0.48],
  [12.46, -15.02, 0.43]
];

// Extended emission region: [x, y, semi-major, semi-minor, tilt in degrees]
const extendedRegion = [[-0.04, 0.08, 1.80, 0.92, 14]];

// CCD chip borders: vertical edges [x, yFrom, yTo]
const chipEdgesV = [
  [13.83, 14.30, 7.00], [13.58, 14.30, 7.00],
  [7.13, 14.84, 6.81], [6.94, 14.84, 6.81],
  [0.52, 14.90, 6.81], [0.33, 14.90, 6.81],
  [-5.04, 14.84, 6.93], [-6.06, 14.90, 6.93],
  [-11.43, 14.53, 8.76], [-11.62, 14.60, 8.76],
  [13.77, 5.44, -8.91], [13.58, 5.44, -9.10],
  [7.19, 5.44, -8.91], [6.97, 5.44, -9.10],
  [0.55, 5.44, -8.91], [0.36, 5.44, -9.10],
  [-6.00, 5.44, -8.91],
  [13.83, -9.16, -14.59], [13.61, -9.16, -14.59],
  [7.22, -8.91, -14.59], [7.03, -9.16, -14.59],
  [0.61, -8.91, -14.84], [0.42, -9.16, -14.84],
  [-5.97, -8.91, -14.84]
];
// horizontal edges [y, xFrom, xTo]
const chipEdgesH = [
  [6.81, 14.75, -5.70],
  [8.76, -5.80, -15.00],
  [5.44, 14.48, -6.03],
  [-8.91, 14.97, -5.28],
  [-9.16, 14.20, -5.28]
];

const INK = '#000';
const LABEL_GREY = '#5f5f5f';
const TITLE_RED = '#971a0c';
const FONT = 'Lato, "Open Sans", sans-serif';

const chart = echarts.init(document.getElementById('chart'), null, { renderer: 'canvas' });

function labelStyle(extra) {
  return Object.assign({
    color: LABEL_GREY, fontFamily: FONT, fontWeight: 300, fontSize: 62
  }, extra || {});
}

function axisBase(showLabels) {
  return {
    type: 'value',
    min: -15,
    max: 15,
    splitNumber: 3,
    minInterval: 10,
    maxInterval: 10,
    axisLine: { show: true, onZero: false, lineStyle: { color: INK, width: 2 } },
    axisTick: { show: true, inside: true, length: 14, lineStyle: { color: INK, width: 2 } },
    minorTick: { show: true, splitNumber: 5, length: 7, lineStyle: { color: INK, width: 2 } },
    splitLine: { show: false },
    minorSplitLine: { show: false },
    axisLabel: { show: showLabels, showMinLabel: false, showMaxLabel: false }
  };
}

// Tick label text: only the labelled ticks, each tagged with its own rich style
function tickText(prefix) {
  return v => {
    const i = tickLabels.indexOf(v);
    return i >= 0 ? '{' + prefix + i + '|' + String(v) + '}' : '';
  };
}

const segments = chipEdgesV.map(d => [d[0], d[1], d[0], d[2]])
  .concat(chipEdgesH.map(d => [d[1], d[0], d[2], d[0]]));

const xAxisBottom = axisBase(true);
Object.assign(xAxisBottom, {
  position: 'bottom',
  inverse: true,
  name: 'X (arcmin)',
  nameLocation: 'middle',
  nameGap: 122,
  nameTextStyle: { color: TITLE_RED, fontFamily: FONT, fontWeight: 300, fontSize: 72, padding: [0, 0, 0, 14] }
});
Object.assign(xAxisBottom.axisLabel, labelStyle({
  margin: 32,
  formatter: tickText('x'),
  rich: {
    x0: labelStyle({ padding: [0, 6, 0, 0] }),
    x1: labelStyle({ padding: [0, 12, 0, 0] }),
    x2: labelStyle({ padding: [0, 24, 0, 0] })
  }
}));

const yAxisLeft = axisBase(true);
Object.assign(yAxisLeft, { position: 'left' });
Object.assign(yAxisLeft.axisLabel, labelStyle({
  margin: 46,
  formatter: tickText('y'),
  rich: {
    y0: labelStyle({ padding: [0, 0, 0, 0] }),
    y1: labelStyle({ padding: [0, 16, 0, 0] }),
    y2: labelStyle({ padding: [0, 0, 0, 0] })
  }
}));

const option = {
  animation: false,
  backgroundColor: {
    type: 'linear', x: 0, y: 0, x2: 0.3, y2: 1,
    colorStops: [{ offset: 0, color: '#e2e5e8' }, { offset: 1, color: '#eceef0' }]
  },
  grid: {
    left: 159, top: 13, width: 966, height: 967,
    show: true, backgroundColor: '#eef0f2', borderWidth: 0,
    containLabel: false, outerBoundsMode: 'none'
  },
  xAxis: [
    xAxisBottom,
    Object.assign(axisBase(false), { position: 'top', inverse: true })
  ],
  yAxis: [
    yAxisLeft,
    Object.assign(axisBase(false), { position: 'right' })
  ],
  graphic: [{
    type: 'text', x: 69, y: 972,
    style: { text: 'Y', fill: TITLE_RED, font: '300 70px ' + FONT, align: 'center', verticalAlign: 'middle' }
  }],
  series: [
    {
      type: 'custom',
      name: 'chips',
      silent: true,
      clip: true,
      z: 1,
      data: segments,
      encode: { x: [0, 2], y: [1, 3] },
      renderItem(params, api) {
        const a = api.coord([api.value(0), api.value(1)]);
        const b = api.coord([api.value(2), api.value(3)]);
        // snap to whole pixels so the 2px dashes stay crisp
        return {
          type: 'line',
          shape: { x1: Math.round(a[0]), y1: Math.round(a[1]), x2: Math.round(b[0]), y2: Math.round(b[1]) },
          style: { stroke: INK, lineWidth: 2, lineDash: [22, 12] }
        };
      }
    },
    {
      type: 'scatter',
      name: 'faint',
      silent: true,
      z: 2,
      symbol: 'circle',
      symbolSize: 3,
      itemStyle: { color: INK, opacity: 1 },
      data: faintNorth.concat(faintNorthWest, faintCentral, faintSouth)
    },
    {
      type: 'scatter',
      name: 'bright',
      silent: true,
      z: 3,
      symbol: 'circle',
      symbolSize: 11,
      itemStyle: { color: INK, opacity: 1 },
      data: brightSources
    },
    {
      type: 'custom',
      name: 'catalogue',
      silent: true,
      clip: true,
      z: 4,
      data: catalogueCircles,
      renderItem(params, api) {
        const c = api.coord([api.value(0), api.value(1)]);
        const r = api.size([api.value(2), 0])[0];
        return {
          type: 'circle',
          shape: { cx: c[0], cy: c[1], r: r },
          style: { fill: 'none', stroke: '#1f3cf5', lineWidth: 2 }
        };
      }
    },
    {
      type: 'custom',
      name: 'extended',
      silent: true,
      clip: true,
      z: 5,
      data: extendedRegion,
      renderItem(params, api) {
        const c = api.coord([api.value(0), api.value(1)]);
        const rx = api.size([api.value(2), 0])[0];
        const ry = api.size([0, api.value(3)])[1];
        return {
          type: 'path',
          x: c[0], y: c[1],
          rotation: api.value(4) * Math.PI / 180,
          shape: {
            pathData: 'M ' + (-rx) + ' 0 A ' + rx + ' ' + ry + ' 0 1 1 ' + rx + ' 0 A ' + rx + ' ' + ry + ' 0 1 1 ' + (-rx) + ' 0'
          },
          style: { fill: 'none', stroke: '#ff2d0c', lineWidth: 5.5, lineDash: [40, 30], lineCap: 'round' }
        };
      }
    }
  ]
};

chart.setOption(option);
</script>
</body>
</html>
